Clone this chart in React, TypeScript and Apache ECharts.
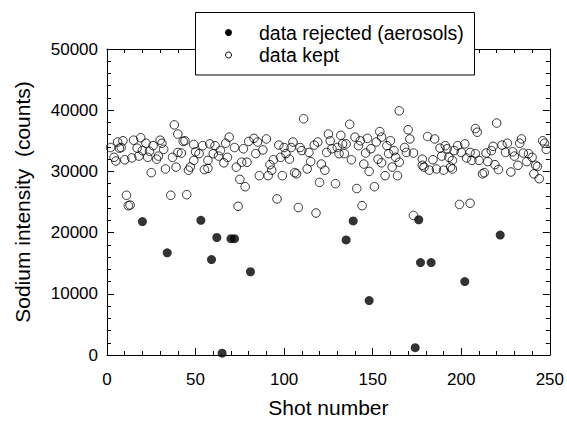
import React, { useEffect, useRef } from "react";
import * as echarts from "echarts";

const xTickLabels = ["0", "50", "100", "150", "200", "250"];
const yTickLabels = ["0", "10000", "20000", "30000", "40000", "50000"];

const seriesNames = ["data rejected (aerosols)", "data kept"];
const xTitle = "Shot number";
const yTitle = "Sodium intensity  (counts)";

// rejected shots (filled dots)
const rejectedX = [20, 34, 53, 59, 62, 65, 70, 72, 81, 135, 139, 148, 174, 176, 177, 183, 202, 222];
const rejectedY = [21800, 16700, 22000, 15600, 19200, 300, 19000, 19000, 13600, 18800, 21900, 8900, 1200, 22100, 15100, 15100, 12000, 19600];

// kept shots (open circles)
const keptX = [
  2, 4, 5, 6, 7, 8, 9, 10, 11, 12, 13, 14, 15, 17, 18, 19, 20, 22, 23, 24,
  25, 26, 28, 29, 30, 31, 32, 33, 36, 37, 38, 39, 40, 40, 42, 43, 44, 45, 46, 47,
  49, 49, 50, 52, 54, 55, 57, 57, 58, 60, 61, 63, 64, 66, 67, 68, 69, 72, 73, 74,
  75, 76, 77, 78, 79, 80, 83, 84, 85, 86, 88, 90, 91, 92, 93, 94, 96, 97, 98, 99,
  100, 101, 103, 104, 105, 106, 107, 108, 109, 110, 111, 113, 114, 115, 117, 118, 119, 120, 121, 123,
  124, 125, 126, 127, 129, 130, 131, 132, 133, 134, 135, 137, 138, 140, 141, 142, 143, 144, 145, 146,
  147, 148, 149, 151, 152, 153, 154, 155, 155, 157, 158, 159, 160, 161, 162, 163, 164, 165, 165, 168,
  169, 170, 171, 173, 173, 178, 178, 179, 181, 182, 184, 185, 186, 188, 189, 190, 191, 192, 193, 194,
  195, 195, 196, 198, 199, 200, 202, 203, 205, 205, 206, 208, 209, 208, 210, 212, 213, 214, 215, 217,
  218, 219, 220, 221, 223, 225, 226, 228, 229, 230, 232, 233, 234, 235, 237, 238, 240, 241, 242, 243,
  244, 246, 247, 248,
];
const keptY = [
  33900, 32300, 31700, 34800, 33800, 33900, 35000, 31900, 26100, 24400, 24500, 32200, 35100, 33800, 32500, 35500, 33400, 34600, 32300, 33300,
  29800, 34200, 32000, 32500, 35100, 34600, 33600, 30400, 26100, 32300, 37600, 30700, 36100, 33100, 33000, 34900, 35000, 26200, 30200, 30700,
  31800, 34400, 33200, 32900, 34200, 30300, 30500, 31800, 34500, 32900, 34200, 32500, 33400, 31400, 34600, 32300, 35600, 33900, 30700, 24300,
  28700, 31500, 33700, 27500, 31500, 34900, 35400, 32900, 34800, 29300, 33500, 35300, 29300, 31100, 30200, 31900, 25500, 34300, 32300, 29300,
  33900, 32900, 32000, 33900, 34800, 29800, 29600, 24100, 33900, 33400, 38600, 30400, 33100, 31600, 34300, 23200, 34800, 28200, 31200, 30200,
  33100, 36100, 35000, 33700, 28000, 33900, 32900, 35900, 34500, 32900, 34500, 37700, 31900, 35600, 27200, 34200, 35000, 24400, 31200, 33000,
  35400, 30000, 33700, 27500, 34800, 32000, 36500, 31400, 35600, 29300, 34200, 32900, 35000, 30700, 33400, 32300, 29300, 39900, 31500, 33900,
  33100, 36800, 35300, 33000, 22800, 31000, 32000, 30700, 35700, 30200, 31900, 35300, 30400, 33800, 32500, 30200, 34200, 33700, 32300, 30700,
  31800, 30400, 33400, 34200, 24600, 33100, 34500, 32200, 24800, 33100, 31800, 37000, 36400, 32900, 31800, 29600, 29800, 33000, 31600, 33400,
  34100, 31100, 37900, 30300, 34300, 33100, 34600, 29900, 33200, 32500, 31000, 34600, 35300, 33000, 31600, 32900, 32300, 29600, 31000, 30800,
  28800, 35000, 34600, 33600,
];

const FONT = "'Liberation Sans', Arial, Helvetica, sans-serif";

export default function App() {
  const ref = useRef<HTMLDivElement>(null);
  useEffect(() => {
    if (!ref.current) return;
    const chart = echarts.init(ref.current, null, { renderer: "svg" });
    const kept = keptX.map((x, i) => [x, keptY[i]]);
    const rejected = rejectedX.map((x, i) => [x, rejectedY[i]]);
    const lineStyle = { color: "#000", width: 1 };
    const baseX = {
      type: "value" as const,
      min: 0,
      max: 250,
      interval: 50,
      axisLine: { show: true, onZero: false, lineStyle },
      axisTick: { show: true, inside: true, length: 7, lineStyle },
      minorTick: { show: true, splitNumber: 5, length: 4, lineStyle },
      splitLine: { show: false },
    };
    const baseY = {
      type: "value" as const,
      min: 0,
      max: 50000,
      interval: 10000,
      axisLine: { show: true, onZero: false, lineStyle },
      axisTick: { show: true, inside: true, length: 7, lineStyle },
      minorTick: { show: true, splitNumber: 5, length: 4, lineStyle },
      splitLine: { show: false },
    };
    const legendText = (text: string, y: number) => ({
      type: "text",
      z: 101,
      x: 259,
      y,
      style: {
        text,
        fontSize: 19.5,
        fontFamily: FONT,
        fill: "#000",
        verticalAlign: "middle",
      },
    });
    chart.setOption({
      animation: false,
      backgroundColor: "#fff",
      grid: { left: 107, right: 16, top: 49, bottom: 65 },
      xAxis: [
        {
          ...baseX,
          position: "bottom",
          name: xTitle,
          nameLocation: "middle",
          nameGap: 42,
          nameTextStyle: { fontSize: 21, color: "#000", fontFamily: FONT },
          axisLabel: {
            fontSize: 17,
            color: "#000",
            fontFamily: FONT,
            margin: 16,
            formatter: (v: number) => xTickLabels[Math.round(v / 50)] ?? "",
          },
        },
        { ...baseX, position: "top", axisLabel: { show: false } },
      ],
      yAxis: [
        {
          ...baseY,
          position: "left",
          name: yTitle,
          nameLocation: "middle",
          nameGap: 74,
          nameRotate: 90,
          nameTextStyle: { fontSize: 21, color: "#000", fontFamily: FONT },
          axisLabel: {
            fontSize: 17,
            color: "#000",
            fontFamily: FONT,
            margin: 9,
            formatter: (v: number) => yTickLabels[Math.round(v / 10000)] ?? "",
          },
        },
        { ...baseY, position: "right", axisLabel: { show: false } },
      ],
      series: [
        {
          name: seriesNames[1],
          type: "scatter",
          data: kept,
          symbol: "circle",
          symbolSize: 8.5,
          clip: false,
          itemStyle: { color: "rgba(255,255,255,0)", borderColor: "#000", borderWidth: 1 },
        },
        {
          name: seriesNames[0],
          type: "scatter",
          data: rejected,
          symbol: "circle",
          symbolSize: 9,
          clip: false,
          itemStyle: { color: "#000" },
        },
      ],
      graphic: [
        {
          type: "rect",
          z: 100,
          shape: { x: 195.5, y: 12.5, width: 279, height: 62.5 },
          style: { fill: "#fff", stroke: "#000", lineWidth: 1 },
        },
        {
          type: "circle",
          z: 101,
          shape: { cx: 228.5, cy: 32.5, r: 3.5 },
          style: { fill: "#000" },
        },
        {
          type: "circle",
          z: 101,
          shape: { cx: 228.5, cy: 55, r: 3 },
          style: { fill: "#fff", stroke: "#000", lineWidth: 1 },
        },
        legendText(seriesNames[0], 32.5),
        legendText(seriesNames[1], 55),
      ],
    });
    return () => chart.dispose();
  }, []);
  return (
    <div
      ref={ref}
      style={{ position: "fixed", left: 0, top: 0, width: 567, height: 423, background: "#fff" }}
    />
  );
}
